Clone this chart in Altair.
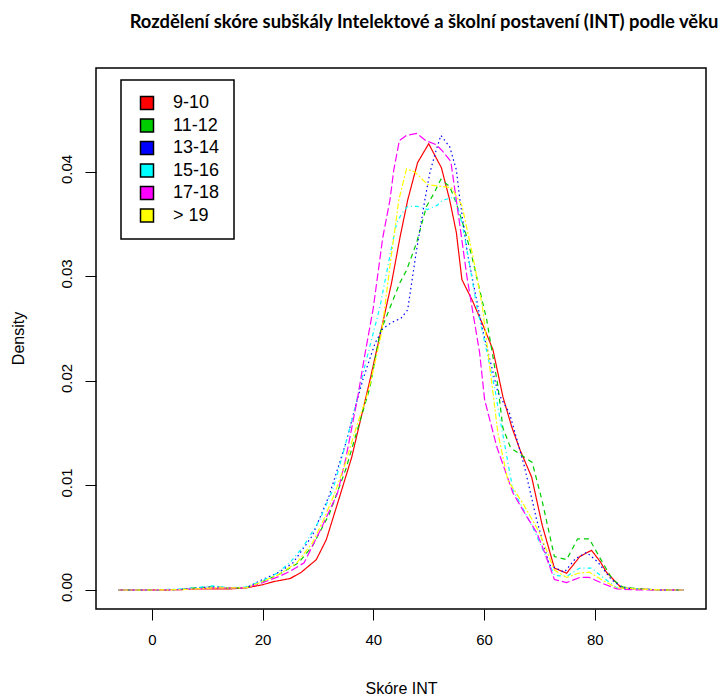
import altair as alt
import pandas as pd

groups = ["9-10", "11-12", "13-14", "15-16", "17-18", "> 19"]
colors = ["#FF0000", "#00CD00", "#0000FF", "#00FFFF", "#FF00FF", "#FFFF00"]
dashes = [[1, 0], [5, 4], [1.5, 3], [1, 3, 4, 3], [8, 3], [2, 2, 6, 2]]

x_red = [-6, 0, 5, 8, 11, 14, 17, 20, 22, 25, 27, 29.7, 31.5, 33.9, 36.1, 38.1, 39.4, 41.3, 43.3, 44.8, 46.2, 48, 50, 52.3, 53.8, 55, 56, 57.8, 59.6, 61.6, 63.4, 65, 66.5, 68.6, 70.5, 72.7, 74.9, 77.3, 79.4, 81, 82.1, 84.8, 88, 92, 96]
y_red = [0, 0, 0.00003, 0.0001, 0.0001, 0.0001, 0.0002, 0.0005, 0.0008, 0.0011, 0.0017, 0.0029, 0.0048, 0.0089, 0.0127, 0.0172, 0.0201, 0.0246, 0.0294, 0.0337, 0.0373, 0.0409, 0.0427, 0.0404, 0.0373, 0.0342, 0.0297, 0.0278, 0.0256, 0.023, 0.0185, 0.0156, 0.0134, 0.0108, 0.0062, 0.0021, 0.0016, 0.0032, 0.0038, 0.0027, 0.0017, 0.0002, 0.0001, 0, 0]

x_green = [-6, 0, 5, 8, 11, 14, 17, 20, 23, 26.5, 29, 32, 35, 37.5, 39.4, 41.2, 43, 44.8, 46, 47.8, 49.6, 51, 52.2, 53.8, 55, 56.5, 57.8, 60.5, 62.5, 63.4, 64.8, 66.5, 68.7, 70.5, 72.7, 74.9, 76.9, 79, 81, 83.2, 85, 88, 92, 96]
y_green = [0, 0, 0.00005, 0.0002, 0.0003, 0.0002, 0.0002, 0.0008, 0.0015, 0.0026, 0.0042, 0.0072, 0.0115, 0.016, 0.0194, 0.0246, 0.027, 0.0294, 0.0306, 0.0332, 0.0367, 0.038, 0.0393, 0.0386, 0.037, 0.0345, 0.0319, 0.0258, 0.0195, 0.0155, 0.0136, 0.013, 0.0122, 0.0085, 0.0032, 0.0029, 0.0049, 0.0049, 0.003, 0.001, 0.0003, 0.0001, 0, 0]

x_blue = [-6, 0, 5, 8, 11, 14, 17, 20, 23, 25.5, 29, 32, 35, 37, 38.1, 40.3, 41.7, 43.3, 45, 46.2, 47.8, 49.3, 50.2, 51.3, 52.2, 53.8, 55, 55.6, 57, 59.6, 62.5, 64.6, 67.3, 69.5, 71.8, 74.5, 76.5, 78.5, 80.5, 83, 85, 88, 92, 96]
y_blue = [0, 0, 0.00005, 0.0002, 0.0003, 0.0002, 0.0002, 0.001, 0.0017, 0.0026, 0.0052, 0.009, 0.014, 0.018, 0.0201, 0.0236, 0.025, 0.0256, 0.026, 0.0268, 0.0325, 0.0373, 0.0399, 0.042, 0.0435, 0.0424, 0.0402, 0.0375, 0.0322, 0.0252, 0.0189, 0.0169, 0.0118, 0.0067, 0.0024, 0.0017, 0.003, 0.0036, 0.0027, 0.001, 0.0002, 0.0001, 0, 0]

x_cyan = [-6, 0, 5, 8, 11, 14, 17, 20, 22.6, 24.9, 27.3, 30.3, 32.7, 34.5, 36.3, 38.5, 41.2, 43, 44.2, 45.1, 46.2, 48, 49.8, 51.5, 52.5, 54.7, 55.6, 56.5, 58.7, 61.9, 62.8, 65.2, 68.8, 70.5, 72.7, 74.9, 77.3, 79.4, 81.5, 84, 88, 92, 96]
y_cyan = [0, 0, 0.0001, 0.0002, 0.0004, 0.0002, 0.0003, 0.0009, 0.0016, 0.0026, 0.0041, 0.0067, 0.0096, 0.013, 0.0166, 0.0215, 0.0271, 0.032, 0.0351, 0.036, 0.0367, 0.0367, 0.0364, 0.0368, 0.0373, 0.0376, 0.036, 0.0338, 0.0271, 0.0194, 0.0166, 0.0096, 0.006, 0.004, 0.0014, 0.0013, 0.0021, 0.0021, 0.0012, 0.0002, 0.0001, 0, 0]

x_magenta = [-6, 0, 5, 8, 11, 14, 17, 20, 23, 25, 27.5, 30.5, 33.5, 35, 37.2, 38.4, 40, 41.7, 43, 43.7, 44.7, 46, 47.8, 49.5, 51.4, 52.5, 54, 55.6, 56.9, 58, 59.2, 60.1, 62.3, 65.2, 67.5, 69.5, 71, 72.7, 74.9, 77.3, 79, 81.5, 84, 88, 92, 96]
y_magenta = [0, 0, 0.00003, 0.0001, 0.0002, 0.0002, 0.0002, 0.0007, 0.0013, 0.0018, 0.0026, 0.0058, 0.0092, 0.0125, 0.0185, 0.0223, 0.027, 0.0337, 0.0373, 0.0402, 0.043, 0.0435, 0.0437, 0.043, 0.0426, 0.042, 0.041, 0.035, 0.03, 0.0265, 0.0227, 0.0182, 0.0137, 0.0093, 0.0072, 0.0055, 0.0035, 0.001, 0.0007, 0.0012, 0.0012, 0.0006, 0.0001, 0, 0, 0]

x_yellow = [-6, 0, 5, 8, 11, 14, 17, 20, 23, 26.2, 29, 31, 33, 35, 37, 38.8, 39.6, 41.5, 43, 44.6, 46, 47.5, 49.8, 52.5, 54.1, 56, 58, 59.7, 61.6, 62.5, 64.3, 67, 70, 72.7, 74.9, 77, 79, 81.5, 84, 88, 92, 96]
y_yellow = [0, 0, 0.00003, 0.0001, 0.0002, 0.0002, 0.0002, 0.0008, 0.0015, 0.0026, 0.0045, 0.0067, 0.0092, 0.0122, 0.0157, 0.0185, 0.0201, 0.0246, 0.031, 0.0373, 0.0403, 0.040, 0.0388, 0.0386, 0.0385, 0.0368, 0.0319, 0.0271, 0.0189, 0.015, 0.0105, 0.0083, 0.0055, 0.0019, 0.0012, 0.0016, 0.0017, 0.0009, 0.0002, 0.0001, 0, 0]

series_x = [x_red, x_green, x_blue, x_cyan, x_magenta, x_yellow]
series_y = [y_red, y_green, y_blue, y_cyan, y_magenta, y_yellow]

x_ticks = [0, 20, 40, 60, 80]
y_ticks = [0, 0.01, 0.02, 0.03, 0.04]

rows = []
for i, (g, xs, ys) in enumerate(zip(groups, series_x, series_y)):
    for xv, yv in zip(xs, ys):
        rows.append({"grp": g, "order": i, "x": xv, "y": yv})
df = pd.DataFrame(rows)

FONT = "Liberation Sans"
xscale = alt.Scale(domain=[-10.08, 100.08], nice=False, zero=False)
yscale = alt.Scale(domain=[-0.00182, 0.04995], nice=False, zero=False)

lines = alt.Chart(df).mark_line(strokeWidth=1.2, clip=True).encode(
    x=alt.X("x:Q", scale=xscale,
            axis=alt.Axis(values=x_ticks, title="Skóre INT", grid=False, domain=False,
                          tickSize=11, tickColor="black", tickWidth=1,
                          labelFont=FONT, labelFontSize=15, labelColor="black", labelPadding=12,
                          titleFont=FONT, titleFontSize=16, titleFontWeight="normal", titleColor="black",
                          titleY=79, titleBaseline="middle")),
    y=alt.Y("y:Q", scale=yscale,
            axis=alt.Axis(values=y_ticks, format=".2f", title="Density", grid=False, domain=False,
                          tickSize=11, tickColor="black", tickWidth=1,
                          labelFont=FONT, labelFontSize=15, labelColor="black", labelPadding=14,
                          labelAngle=270, labelAlign="center", labelBaseline="alphabetic",
                          labelOffset=-3,
                          titleFont=FONT, titleFontSize=16, titleFontWeight="normal", titleColor="black",
                          titleX=-78, titleY=270, titleAngle=270, titleAlign="center", titleBaseline="middle")),
    color=alt.Color("grp:N", scale=alt.Scale(domain=groups, range=colors), legend=None),
    strokeDash=alt.StrokeDash("grp:N", scale=alt.Scale(domain=groups, range=dashes), legend=None),
    detail="grp:N",
)

# legend helper: one square per group, placed below the visible y domain (clipped away)
leg_df = pd.DataFrame({"label": groups, "x": [x_red[0]] * len(groups), "y": [y_ticks[0] - 1] * len(groups)})
legend_layer = alt.Chart(leg_df).mark_square(filled=True, size=169, stroke="black",
                                             strokeWidth=1.5, opacity=1, clip=True).encode(
    x=alt.X("x:Q", scale=xscale),
    y=alt.Y("y:Q", scale=yscale),
    color=alt.Color("label:N", scale=alt.Scale(domain=groups, range=colors),
                    legend=alt.Legend(title=None, orient="none", legendX=25, legendY=12,
                                      symbolType="square", symbolSize=169, symbolStrokeColor="black",
                                      symbolStrokeWidth=1.5, symbolOpacity=1, symbolOffset=3,
                                      labelFont=FONT, labelFontSize=18, labelColor="black",
                                      labelOffset=17, rowPadding=2.5, padding=14,
                                      strokeColor="black", fillColor="white")),
)

chart = alt.layer(lines, legend_layer).properties(
    width=610, height=541,
    background="white",
    title=alt.TitleParams("Rozdělení skóre subškály Intelektové a školní postavení (INT) podle věku",
                          font="Lato", fontSize=18.4, fontWeight="bold", color="black",
                          anchor="middle", dx=23, offset=22, baseline="alphabetic"),
    padding={"left": 96, "top": 68, "right": 18, "bottom": 89},
    autosize=alt.AutoSizeParams(type="none"),
).resolve_scale(color="independent").configure_view(stroke="black", strokeWidth=1.5).configure_legend(strokeWidth=1.5)

chart.save("out.html", embed_options={"renderer": "svg", "actions": False})
